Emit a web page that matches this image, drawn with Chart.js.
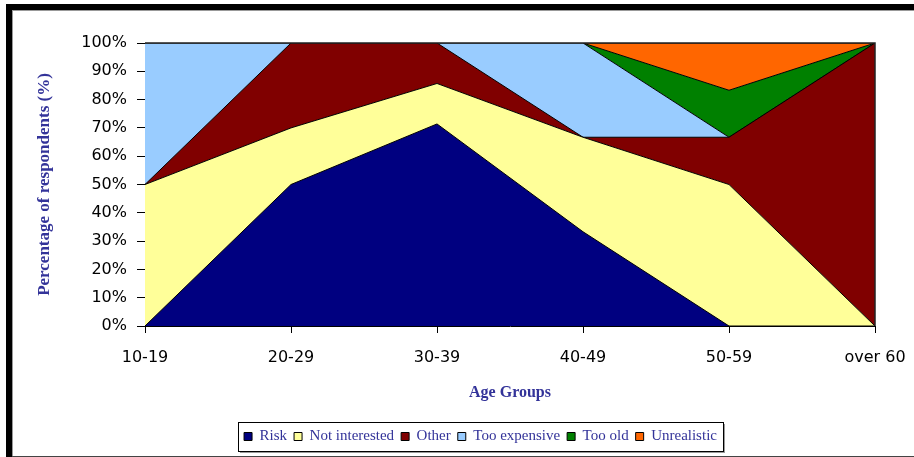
<!DOCTYPE html>
<html>
<head>
<meta charset="utf-8">
<script src="https://cdn.jsdelivr.net/npm/chart.js@4.4.1/dist/chart.umd.min.js"></script>
<style>
    html, body { margin: 0; padding: 0; background: #fff; overflow: hidden; }
    #wrap { position: relative; width: 914px; height: 457px; }
    #chart { position: absolute; left: 0; top: 0; }
    .edge { position: absolute; }
</style>
</head>
<body>
<div id="wrap">
    <canvas id="chart" width="914" height="457"></canvas>
    <div class="edge" style="left:6px;top:4px;width:908px;height:6px;background:#000"></div>
    <div class="edge" style="left:6px;top:4px;width:6px;height:453px;background:#000"></div>
    <div class="edge" style="left:12px;top:10px;width:902px;height:1px;background:#999"></div>
    <div class="edge" style="left:12px;top:10px;width:1px;height:447px;background:#999"></div>
    <div class="edge" style="left:12px;top:456px;width:902px;height:1px;background:#444"></div>
</div>
<script>
'use strict'
// Age groups along the x axis
let ageGroups = ["10-19", "20-29", "30-39", "40-49", "50-59", "over 60"];

// Share of respondents (%) per reason, each group sums to 100
let risk = [0, 50, 71.4, 33.3, 0, 0];
let notInterested = [50, 20, 14.3, 33.4, 50, 0];
let other = [0, 30, 14.3, 0, 16.7, 100];
let tooExpensive = [50, 0, 0, 33.3, 0, 0];
let tooOld = [0, 0, 0, 0, 16.6, 0];
let unrealistic = [0, 0, 0, 0, 16.7, 0];

let seriesNames = ["Risk", "Not interested", "Other", "Too expensive", "Too old", "Unrealistic"];
let seriesValues = [risk, notInterested, other, tooExpensive, tooOld, unrealistic];
let seriesColors = ["#000080", "#ffff99", "#800000", "#99ccff", "#008000", "#ff6600"];

let labelBlue = "#333399";
let legendShift = 26;

// Moves the legend a little right and draws its framed box with a shadow
let legendFrame = {
    id: "legendFrame",
    afterLayout: function (chart) {
        let legend = chart.legend;
        legend.left += legendShift;
        legend.right += legendShift;
        legend.legendHitBoxes.forEach(function (box) {
            box.left += legendShift;
        });
    },
    beforeDraw: function (chart) {
        let ctx = chart.ctx;
        let boxes = chart.legend.legendHitBoxes;
        let first = boxes[0];
        let last = boxes[boxes.length - 1];
        let x = Math.round(first.left - 6) + 0.5;
        let y = Math.round(chart.legend.top) + 0.5;
        let w = Math.round(last.left + last.width - first.left + 12);
        let h = 29;
        ctx.save();
        ctx.fillStyle = "#9a9a9a";
        ctx.fillRect(x + 1.5, y + 1.5, w, h);
        ctx.fillStyle = "#fff";
        ctx.fillRect(x, y, w, h);
        ctx.strokeStyle = "#000";
        ctx.lineWidth = 1;
        ctx.strokeRect(x, y, w, h);
        ctx.restore();
    },
    afterDraw: function (chart) {
        // top and right edges of the plot
        let ctx = chart.ctx;
        let area = chart.chartArea;
        ctx.save();
        ctx.strokeStyle = "#222";
        ctx.lineWidth = 1.5;
        ctx.beginPath();
        ctx.moveTo(area.left, area.top);
        ctx.lineTo(area.right, area.top);
        ctx.lineTo(area.right, area.bottom);
        ctx.stroke();
        ctx.restore();
    },
};

let datasets = seriesNames.map(function (name, i) {
    return {
        label: name,
        data: seriesValues[i],
        backgroundColor: seriesColors[i],
        borderColor: "#000",
        borderWidth: 1,
        fill: i === 0 ? "origin" : "-1",
        pointRadius: 0,
        tension: 0,
    };
});

let chart = new Chart("chart", {
    type: "line",
    data: {
        labels: ageGroups,
        datasets: datasets,
    },
    options: {
        responsive: false,
        animation: false,
        layout: {
            padding: { top: 43, left: 34, right: 39, bottom: 3 },
        },
        plugins: {
            legend: {
                position: "bottom",
                labels: {
                    boxWidth: 8,
                    boxHeight: 8,
                    padding: 7,
                    color: labelBlue,
                    font: { family: "Liberation Serif", size: 15 },
                },
            },
            tooltip: { enabled: false },
        },
        scales: {
            x: {
                offset: false,
                grid: { drawOnChartArea: false, tickLength: 7, color: "#000" },
                border: { color: "#000" },
                ticks: {
                    color: "#000",
                    maxRotation: 0,
                    padding: 15,
                    font: { family: "DejaVu Sans", size: 16 },
                },
                title: {
                    display: true,
                    text: "Age Groups",
                    color: labelBlue,
                    font: { family: "Liberation Serif", size: 16, weight: "bold" },
                    padding: { top: 0, bottom: 20 },
                },
                afterFit: function (scale) {
                    scale.height = 96;
                    scale.paddingLeft = 0;
                    scale.paddingRight = 0;
                },
            },
            y: {
                stacked: true,
                min: 0,
                max: 100,
                grid: { drawOnChartArea: false, tickLength: 8, color: "#000" },
                border: { color: "#000" },
                ticks: {
                    stepSize: 10,
                    color: "#000",
                    padding: 10,
                    font: { family: "DejaVu Sans", size: 16 },
                    callback: function (value) {
                        return value + "%";
                    },
                },
                title: {
                    display: true,
                    text: "Percentage of respondents (%)",
                    color: labelBlue,
                    font: { family: "Liberation Serif", size: 17, weight: "bold" },
                    padding: { top: 0, bottom: 0 },
                },
                afterFit: function (scale) {
                    scale.width = 111;
                },
            },
        },
    },
    plugins: [legendFrame],
});
</script>
</body>
</html>
